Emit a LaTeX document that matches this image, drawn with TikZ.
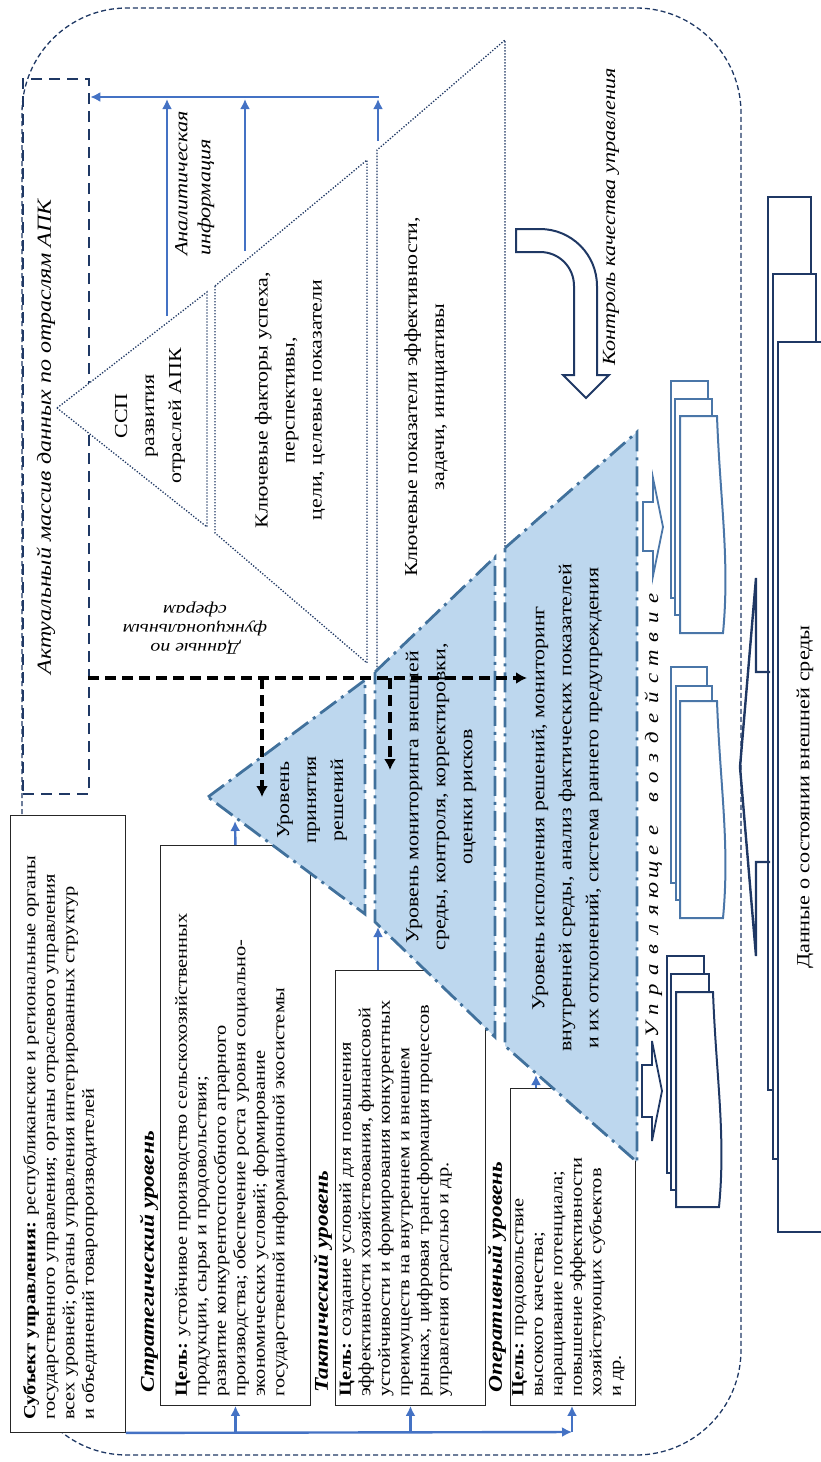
\documentclass[tikz,border=0pt]{standalone}
\usepackage{fontspec}
\setmainfont{Liberation Serif}[FakeStretch=1.2]
\usetikzlibrary{arrows.meta}
\definecolor{navy}{HTML}{1F3864}
\definecolor{steel}{HTML}{41719C}
\definecolor{docblue}{HTML}{4A76A8}
\definecolor{arrowblue}{HTML}{4472C4}
\definecolor{fillblue}{HTML}{BDD7EE}
\begin{document}
\begin{tikzpicture}[x=1pt,y=-1pt,
  rtext/.style={rotate=90, inner sep=0pt, align=center},
  boxtext/.style={rotate=90, inner sep=0pt, align=left, anchor=north west, font=\fontsize{17}{19.5}\selectfont},
  lvltext/.style={rotate=90, inner sep=0pt, align=center, font=\fontsize{18.3}{27}\selectfont},
  lbltext/.style={rotate=90, anchor=west, inner sep=0pt, font=\bfseries\itshape\fontsize{19.5}{22}\selectfont},
  goalbox/.style={draw=black!85, line width=0.9pt, fill=white, inner sep=0pt, anchor=north west},
  levelshape/.style={fill=fillblue, draw=steel, line width=2.8pt, dash pattern=on 20pt off 6pt on 3pt off 6pt},
  dotshape/.style={draw=navy, line width=1.3pt, dash pattern=on 1.3pt off 1.7pt, fill=white},
  dotline/.style={draw=navy, line width=1.3pt, dash pattern=on 1.3pt off 1.7pt},
  bline/.style={draw=arrowblue, line width=2.4pt},
  barrow/.style={bline, -{Latex[length=10pt,width=10pt]}},
  karrow/.style={draw=black, line width=3.4pt, dash pattern=on 11pt off 6pt, -{Latex[length=11pt,width=12pt]}},
  docshape/.style={draw=docblue, line width=2pt, fill=white},
  navydoc/.style={draw=navy, line width=2pt, fill=white},
  bigdoc/.style={draw=navy, line width=2.6pt, fill=white},
  letterstyle/.style={rotate=90, anchor=base, inner sep=0pt, font=\itshape\fontsize{19}{22}\selectfont}
]
\useasboundingbox (0,0) rectangle (820,1462);

% outer dashed frame
\draw[navy, line width=1.3pt, dash pattern=on 5pt off 3pt, rounded corners=105pt] (22,8) rectangle (741,1455);

% left dashed box
\node[draw=navy, line width=2.3pt, dash pattern=on 11pt off 7pt, minimum width=66pt, minimum height=715pt, inner sep=0pt, anchor=north west] (arraybox) at (22,78) {};
\node[rtext, font=\itshape\fontsize{20}{24}\selectfont] (arraylbl) at (46,437) {Актуальный массив данных по отраслям АПК};

% upper dotted pyramid
\path[dotshape] (57,408) -- (207,292) -- (207,527) -- cycle;
\path[dotshape] (215,286) -- (367,160) -- (367,663) -- (215,533) -- cycle;
\fill[white] (377,150) -- (505,40) -- (505,550) -- (377,673) -- cycle;
\draw[dotline] (377,673) -- (377,150) -- (505,40) -- (505,550);

\node[lvltext] (ssp) at (150,416) {ССП\\развития\\отраслей АПК};
\node[lvltext] (ksf) at (290,400) {Ключевые факторы успеха,\\перспективы,\\цели, целевые показатели};
\node[lvltext] (kpi) at (426,397) {Ключевые показатели эффективности,\\задачи, инициативы};
\node[rotate=180, align=center, inner sep=0pt, font=\itshape\fontsize{16.5}{19}\selectfont] (funcdata) at (195,628) {Данные по\\функциональным\\сферам};

% analytical information arrows
\coordinate (a1s) at (167,316);
\coordinate (a1e) at (167,99);
\coordinate (a2s) at (245,251);
\coordinate (a2e) at (245,99);
\coordinate (a3s) at (378,141);
\coordinate (a3e) at (378,99);
\coordinate (hs) at (379,97);
\draw[barrow] (a1s) -- (a1e);
\draw[barrow] (a2s) -- (a2e);
\draw[barrow] (a3s) -- (a3e);
\draw[barrow] (hs) -- (hs -| arraybox.east);
\node[rotate=90, anchor=north west, align=left, inner sep=0pt, font=\itshape\fontsize{18.5}{23}\selectfont] (anainfo) at (175,256) {Аналитическая\\информация};

% control arrow
\draw[navy, line width=2pt, fill=white] (516,229) -- (540,229) .. controls (571.5,229) and (597,254.5) .. (597,286) -- (597,375) -- (609,375) -- (586,398) -- (563,375) -- (574,375) -- (574,286) .. controls (574,267) and (559,252) .. (540,252) -- (516,252) -- cycle;
\node[rtext, font=\itshape\fontsize{18.5}{22}\selectfont] (ctrl) at (611,217) {Контроль качества управления};

% big right stack
\draw[bigdoc] (768,197) rectangle (811,1090);
\draw[bigdoc] (773,274) rectangle (816,1159);
\draw[bigdoc] (778,342) rectangle (830,1232);
\draw[navy, line width=2.4pt, line join=miter] (770,672) -- (756,672) -- (756,578) -- (740,767) -- (756,956) -- (756,862) -- (770,862);
\node[rtext, font=\fontsize{18.5}{22}\selectfont] (envdata) at (805,797) {Данные о состоянии внешней среды};

% document stacks
\draw[docshape] (671,381) rectangle (708,598);
\draw[docshape] (675,399) rectangle (712,615);
\draw[docshape] (680,416) -- (717,416) .. controls (720,500) and (730,560) .. (723,633) -- (680,633) -- cycle;
\draw[docshape] (671,667) rectangle (707,883);
\draw[docshape] (676,686) rectangle (712,900);
\draw[docshape] (680,701) -- (717,701) .. controls (720,785) and (730,845) .. (723,918) -- (680,918) -- cycle;
\draw[navydoc] (667,956) rectangle (704,1173);
\draw[navydoc] (671,974) rectangle (709,1190);
\draw[navydoc] (676,992) -- (713,992) .. controls (716,1075) and (726,1135) .. (719,1207) -- (676,1207) -- cycle;

% block arrows
\draw[docshape, line width=1.8pt] (643,502) -- (653,502) -- (653,478) -- (663,527) -- (653,576) -- (653,551) -- (643,551) -- cycle;
\draw[navydoc, line width=1.8pt] (642,1065) -- (652,1065) -- (652,1041) -- (662,1091) -- (652,1141) -- (652,1117) -- (642,1117) -- cycle;

% spaced text
\foreach \ch [count=\i from 0] in {У,п,р,а,в,л,я,ю,щ,е,е}
  \node[letterstyle] (ua\i) at (658,{1030-20*\i}) {\ch};
\foreach \ch [count=\i from 0] in {в,о,з,д,е,й,с,т,в,и,е}
  \node[letterstyle] (ub\i) at (658,{798-20*\i}) {\ch};

% left boxes
\node[goalbox, minimum width=115pt, minimum height=617pt] (subj) at (10,815) {};
\node[boxtext] (subjtxt) at (23,1420) {\textbf{Субъект управления:} республиканские и региональные органы\\государственного управления; органы отраслевого управления\\всех уровней; органы управления интегрированных структур\\и объединений товаропроизводителей};

\node[lbltext] (stratlbl) at (149,1393) {Стратегический уровень};
\node[goalbox, minimum width=150pt, minimum height=560pt] (stratbox) at (160,845) {};
\node[boxtext] (strattxt) at (175,1397) {\textbf{Цель:} устойчивое производство сельскохозяйственных\\продукции, сырья и продовольствия;\\развитие конкурентоспособного аграрного\\производства; обеспечение роста уровня социально-\\экономических условий; формирование\\государственной информационной экосистемы};

\node[lbltext] (tactlbl) at (323,1393) {Тактический уровень};
\node[goalbox, minimum width=150pt, minimum height=435pt] (tactbox) at (335,970) {};
\node[boxtext] (tacttxt) at (339,1397) {\textbf{Цель:} создание условий для повышения\\эффективности хозяйствования, финансовой\\устойчивости и формирования конкурентных\\преимуществ на внутреннем и внешнем\\рынках, цифровая трансформация процессов\\управления отраслью и др.};

\node[lbltext] (operlbl) at (497,1393) {Оперативный уровень};
\node[goalbox, minimum width=125pt, minimum height=317pt] (operbox) at (510,1088) {};
\node[boxtext] (opertxt) at (512,1397) {\textbf{Цель:} продовольствие\\высокого качества;\\наращивание потенциала;\\повышение эффективности\\хозяйствующих субъектов\\и др.};

% bottom blue arrows
\coordinate (corner) at (572,1432);
\draw[barrow] (subj.south east) -- (corner);
\draw[barrow] (corner) -- (corner |- operbox.south);
\draw[barrow] (stratbox.south |- corner) -- (stratbox.south);
\draw[barrow] (tactbox.south |- corner) -- (tactbox.south);

% blue pyramid
\path[levelshape] (208,797) -- (365,680) -- (365,914) -- cycle;
\path[levelshape] (375,672) -- (495,557) -- (495,1037) -- (375,922) -- cycle;
\path[levelshape] (505,548) -- (637,432) -- (637,1162) -- (505,1046) -- cycle;

% arrows from goal boxes to levels
\coordinate (lv1in) at (235,821);
\coordinate (tup) at (378,970);
\coordinate (lv2in) at (378,927);
\coordinate (oup) at (536,1088);
\coordinate (lv3in) at (536,1075);
\draw[barrow] (stratbox.north) -- (lv1in);
\draw[barrow] (tup) -- (lv2in);
\draw[barrow] (oup) -- (lv3in);

\node[lvltext] (lv1) at (312,800) {Уровень\\принятия\\решений};
\node[lvltext] (lv2) at (441,797) {Уровень мониторинга внешней\\среды, контроля, корректировки,\\оценки рисков};
\node[lvltext] (lv3) at (567,808) {Уровень исполнения решений, мониторинг\\внутренней среды, анализ фактических показателей\\и их отклонений, система раннего предупреждения};

% black dashed arrows
\coordinate (kstart) at (88,678);
\coordinate (kend) at (527,678);
\coordinate (kb1) at (262,678);
\coordinate (kb1e) at (262,797);
\coordinate (kb2) at (390,678);
\coordinate (kb2e) at (390,770);
\draw[karrow] (kstart) -- (kend);
\draw[karrow] (kb1) -- (kb1e);
\draw[karrow] (kb2) -- (kb2e);
\end{tikzpicture}
\end{document}
